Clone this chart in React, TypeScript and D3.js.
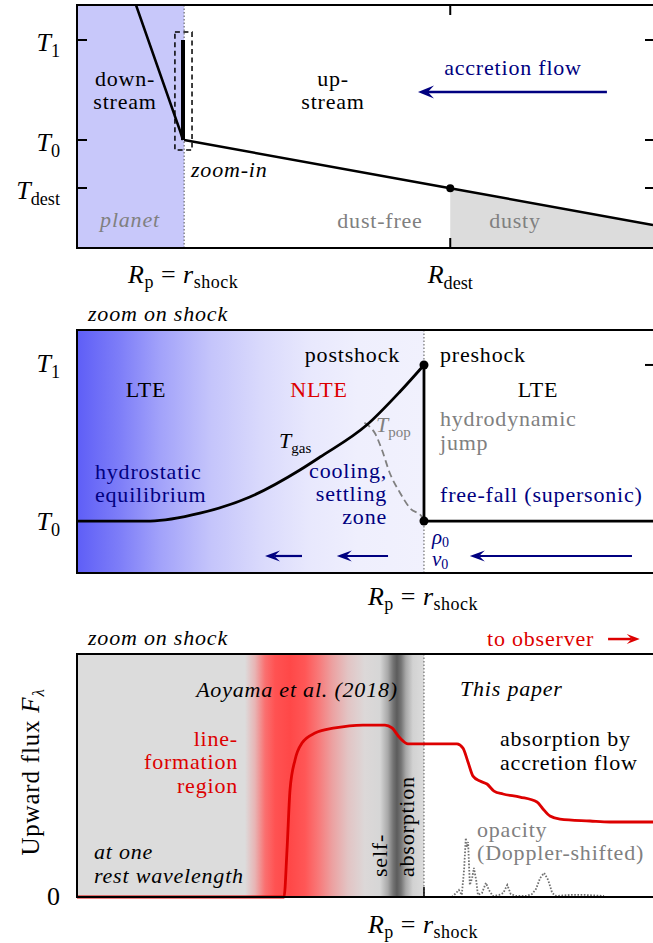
import React from 'react';
import * as d3 from 'd3';

const W = 653;
const H = 943;
const SERIF = '"Liberation Serif", "Times New Roman", Times, serif';
const NAVY = '#000080';
const RED = '#dd0000';
const GRAY = '#808080';

// ---------- radial coordinate: 0 = inner panel edge, 1 = outer panel edge ----------
const SHOCK_TOP = 0.186;
const R_DEST = 0.648;
const SHOCK_ZOOM = 0.6024;

// ---------- panel 1: global temperature profile (T0 = 0, T1 = 1) ----------
const overviewTickValues = [1, 0, -0.48];
const overviewTickSubs = ['1', '0', 'dest'];
const downstreamR = [0.1024, 0.179, 0.184];
const downstreamT = [1.35, 0.09, 0.0];
const jumpR = [0.184, 0.184];
const jumpT = [0.0, 1.0];
const upstreamR = [0.186, 0.648, 1.0];
const upstreamT = [0.0, -0.482, -0.85];
const zoomBoxR = [0.170, 0.1997];
const zoomBoxT = [-0.1, 1.08];

// ---------- panel 2: zoom on the shock ----------
const gasR = [0, 0.127, 0.2135, 0.3, 0.387, 0.422, 0.503, 0.561, 0.6024];
const gasT = [0, 0, 0.05, 0.154, 0.327, 0.41, 0.615, 0.83, 1.0];
const popR = [0.499, 0.508, 0.517, 0.5295, 0.543, 0.561, 0.578, 0.599, 0.6024];
const popT = [0.63, 0.605, 0.564, 0.455, 0.308, 0.18, 0.083, 0.026, 0];
const preshockR = [0.6024, 1.0];
const preshockT = [0, 0];
const flowArrowsFrom = [0.3906, 0.540, 0.9635];
const flowArrowsTo = [0.3264, 0.451, 0.682];

// ---------- panel 3: upward flux at one rest wavelength ----------
const fluxR = [0, 0.3594, 0.3646, 0.3698, 0.3785, 0.3906, 0.4132, 0.4479, 0.4965, 0.5347, 0.5469,
  0.5608, 0.5747, 0.6597, 0.6701, 0.6788, 0.6875, 0.6997, 0.7118, 0.724, 0.7396, 0.7691, 0.7986,
  0.809, 0.8212, 0.8385, 0.8906, 0.9253, 1.0];
const fluxF = [0, 0, 0.273, 0.622, 0.797, 0.895, 0.953, 0.983, 1.0, 1.0, 0.983,
  0.924, 0.89, 0.89, 0.866, 0.785, 0.703, 0.674, 0.657, 0.616, 0.599, 0.581, 0.552,
  0.512, 0.471, 0.453, 0.442, 0.436, 0.436];
const opacityR = [0.651, 0.658, 0.663, 0.668, 0.672, 0.675, 0.677, 0.679, 0.682, 0.686, 0.689, 0.693, 0.696,
  0.703, 0.71, 0.715, 0.722, 0.733, 0.74, 0.747, 0.753, 0.762, 0.78, 0.79, 0.797, 0.804, 0.811,
  0.818, 0.825, 0.832, 0.856, 0.882, 0.915];
const opacityK = [0, 0.023, 0.041, 0.012, 0.157, 0.343, 0.29, 0.32, 0.07, 0.11, 0.169, 0.099, 0.012,
  0.023, 0.082, 0.041, 0.006, 0.012, 0.023, 0.07, 0.017, 0.006, 0.006, 0.017, 0.047, 0.11, 0.14,
  0.099, 0.023, 0.006, 0.012, 0.012, 0.006];

const xR = d3.scaleLinear().domain([0, 1]).range([77, 653]);
const y1 = d3.scaleLinear().domain([-1.08, 1.35]).range([248, 5]);
const y2 = d3.scaleLinear().domain([-0.333, 1.224]).range([573, 330]);
const y3 = d3.scaleLinear().domain([0, 1.413]).range([897, 654]);

const zip = (a: number[], b: number[]) => a.map((v, i) => [v, b[i]] as [number, number]);

function lineOf(ys: d3.ScaleLinear<number, number>, curve: d3.CurveFactory = d3.curveLinear) {
  return d3.line<[number, number]>().x(d => xR(d[0])).y(d => ys(d[1])).curve(curve);
}

function Arrow({ x1, x2, y, color, len, half, sw }: { x1: number; x2: number; y: number; color: string; len: number; half: number; sw: number }) {
  const dir = Math.sign(x2 - x1);
  const back = x2 - dir * len;
  const notch = x2 - dir * len * 0.62;
  return (
    <g>
      <line x1={x1} y1={y} x2={notch} y2={y} stroke={color} strokeWidth={sw} />
      <path d={`M${x2},${y} L${back},${y - half} L${notch},${y} L${back},${y + half} Z`} fill={color} />
    </g>
  );
}

const fontStyleOf = (size: number) => ({ fontFamily: SERIF, fontSize: size });

function Sub({ x, y, base, sub, anchor = 'end', size = 26, color = '#000' }: any) {
  return (
    <text x={x} y={y} textAnchor={anchor} fill={color} style={fontStyleOf(size)}>
      <tspan fontStyle="italic">{base}</tspan>
      <tspan style={{ fontSize: size * 0.7 }} dy={size * 0.22}>{sub}</tspan>
    </text>
  );
}

function ShockLabel({ x, y }: { x: number; y: number }) {
  return (
    <text x={x} y={y} textAnchor="middle" style={{ ...fontStyleOf(26), whiteSpace: 'pre', letterSpacing: '0.5px' }}>
      <tspan fontStyle="italic">R</tspan>
      <tspan style={{ fontSize: 18 }} dy={5}>p</tspan>
      <tspan dy={-5}>{' = '}</tspan>
      <tspan fontStyle="italic">r</tspan>
      <tspan style={{ fontSize: 18 }} dy={5}>shock</tspan>
    </text>
  );
}

function Label({ children, size = 22, ...p }: any) {
  return (
    <text style={{ ...fontStyleOf(size), letterSpacing: '0.8px' }} {...p}>{children}</text>
  );
}

export default function App() {
  const l1 = lineOf(y1);
  const l2 = lineOf(y2, d3.curveMonotoneX);
  const l2lin = lineOf(y2);
  const l3 = lineOf(y3, d3.curveMonotoneX);
  const l3lin = lineOf(y3);

  const dustyPoly = [
    [xR(R_DEST), y1(-0.482)], [xR(1), y1(-0.85)], [xR(1), y1(-1.08)], [xR(R_DEST), y1(-1.08)],
  ];
  // frames run past the right edge of the canvas, so their right side is cut off
  const frameW = xR(1) - xR(0) + 4;

  return (
    <svg width={W} height={H} style={{ position: 'absolute', left: 0, top: 0, background: '#fff', fontFamily: SERIF }}>
      <defs>
        <linearGradient id="postshockGrad" gradientUnits="userSpaceOnUse" x1={77} x2={xR(SHOCK_ZOOM)} y1={0} y2={0}>
          <stop offset="0" stopColor="#5e5ef7" />
          <stop offset="0.124" stopColor="#7e7ef8" />
          <stop offset="0.24" stopColor="#a2a2fa" />
          <stop offset="0.383" stopColor="#c4c4fb" />
          <stop offset="0.527" stopColor="#d9d9fc" />
          <stop offset="0.67" stopColor="#e8e8fd" />
          <stop offset="0.81" stopColor="#efeffd" />
          <stop offset="1" stopColor="#f1f1fd" />
        </linearGradient>
        <linearGradient id="lineGrad" gradientUnits="userSpaceOnUse" x1={77} x2={xR(SHOCK_ZOOM)} y1={0} y2={0}>
          <stop offset="0" stopColor="#dcdcdc" />
          <stop offset="0.484" stopColor="#dcdcdc" />
          <stop offset="0.513" stopColor="#e8b4b4" />
          <stop offset="0.542" stopColor="#fa7070" />
          <stop offset="0.571" stopColor="#ff5252" />
          <stop offset="0.614" stopColor="#ff4848" />
          <stop offset="0.657" stopColor="#ff5656" />
          <stop offset="0.695" stopColor="#f87878" />
          <stop offset="0.735" stopColor="#eca0a0" />
          <stop offset="0.781" stopColor="#e2c4c4" />
          <stop offset="0.83" stopColor="#dcd8d8" />
          <stop offset="0.873" stopColor="#d6d6d6" />
          <stop offset="0.896" stopColor="#a8a8a8" />
          <stop offset="0.911" stopColor="#747474" />
          <stop offset="0.922" stopColor="#5c5c5c" />
          <stop offset="0.934" stopColor="#747474" />
          <stop offset="0.948" stopColor="#a8a8a8" />
          <stop offset="0.968" stopColor="#d2d2d2" />
          <stop offset="1" stopColor="#dcdcdc" />
        </linearGradient>
      </defs>

      {/* ================= panel 1 ================= */}
      <rect x={xR(0)} y={y1(1.35)} width={xR(SHOCK_TOP) - xR(0)} height={y1(-1.08) - y1(1.35)} fill="#c8c8fa" />
      <polygon points={dustyPoly.map(p => p.join(',')).join(' ')} fill="#dcdcdc" />
      <line x1={xR(SHOCK_TOP)} x2={xR(SHOCK_TOP)} y1={y1(1.35)} y2={y1(-1.08)} stroke="#555" strokeWidth={1} strokeDasharray="1.5,2" />
      <rect x={xR(zoomBoxR[0])} y={y1(zoomBoxT[1])} width={xR(zoomBoxR[1]) - xR(zoomBoxR[0])} height={y1(zoomBoxT[0]) - y1(zoomBoxT[1])}
        fill="none" stroke="#000" strokeWidth={1.5} strokeDasharray="5,3.5" />
      <path d={l1(zip(downstreamR, downstreamT)) || ''} fill="none" stroke="#000" strokeWidth={2.5} />
      <path d={l1(zip(jumpR, jumpT)) || ''} fill="none" stroke="#000" strokeWidth={4} />
      <path d={l1(zip(upstreamR, upstreamT)) || ''} fill="none" stroke="#000" strokeWidth={2.5} />
      <circle cx={xR(R_DEST)} cy={y1(-0.482)} r={4} fill="#000" />
      {overviewTickValues.map((v, i) => (
        <g key={i}>
          <line x1={xR(0)} x2={xR(0) + 10} y1={y1(v)} y2={y1(v)} stroke="#000" strokeWidth={2} />
          <line x1={xR(1) - 8} x2={xR(1)} y1={y1(v)} y2={y1(v)} stroke="#000" strokeWidth={2} />
          <Sub x={60} y={y1(v) + 11} base="T" sub={overviewTickSubs[i]} />
        </g>
      ))}
      <line x1={xR(R_DEST)} x2={xR(R_DEST)} y1={y1(1.35)} y2={y1(1.35) + 10} stroke="#000" strokeWidth={2} />
      <line x1={xR(R_DEST)} x2={xR(R_DEST)} y1={y1(-1.08)} y2={y1(-1.08) - 10} stroke="#000" strokeWidth={2} />
      <rect x={xR(0)} y={y1(1.35)} width={frameW} height={y1(-1.08) - y1(1.35)} fill="none" stroke="#000" strokeWidth={2} />

      <Label x={125} y={86} textAnchor="middle">down-</Label>
      <Label x={125} y={109} textAnchor="middle">stream</Label>
      <Label x={333} y={86} textAnchor="middle">up-</Label>
      <Label x={333} y={109} textAnchor="middle">stream</Label>
      <Label x={513} y={75} textAnchor="middle" fill={NAVY}>accretion flow</Label>
      <Arrow x1={xR(0.92)} x2={xR(0.592)} y={y1(0.48)} color={NAVY} len={16} half={6.5} sw={2.5} />
      <Label x={191} y={177} fontStyle="italic">zoom-in</Label>
      <Label x={130} y={227} textAnchor="middle" fontStyle="italic" fill={GRAY}>planet</Label>
      <Label x={380} y={228} textAnchor="middle" fill={GRAY}>dust-free</Label>
      <Label x={515} y={228} textAnchor="middle" fill={GRAY}>dusty</Label>
      <ShockLabel x={xR(SHOCK_TOP) - 1} y={283} />
      <Sub x={xR(R_DEST)} y={283} base="R" sub="dest" anchor="middle" />

      {/* ================= panel 2 ================= */}
      <Label x={88} y={321} fontStyle="italic">zoom on shock</Label>
      <rect x={xR(0)} y={y2(1.224)} width={xR(SHOCK_ZOOM) - xR(0)} height={y2(-0.333) - y2(1.224)} fill="url(#postshockGrad)" />
      <line x1={xR(SHOCK_ZOOM)} x2={xR(SHOCK_ZOOM)} y1={y2(1.224)} y2={y2(-0.333)} stroke="#555" strokeWidth={1} strokeDasharray="1.5,2" />
      <path d={l2(zip(popR, popT)) || ''} fill="none" stroke="#808080" strokeWidth={1.8} strokeDasharray="7,4" />
      <path d={l2(zip(gasR, gasT)) || ''} fill="none" stroke="#000" strokeWidth={2.8} />
      <path d={l2lin(zip([SHOCK_ZOOM, SHOCK_ZOOM], [0, 1])) || ''} fill="none" stroke="#000" strokeWidth={2.8} />
      <path d={l2lin(zip(preshockR, preshockT)) || ''} fill="none" stroke="#000" strokeWidth={2.8} />
      <circle cx={xR(SHOCK_ZOOM)} cy={y2(1)} r={4.5} fill="#000" />
      <circle cx={xR(SHOCK_ZOOM)} cy={y2(0)} r={4.5} fill="#000" />
      <line x1={xR(1) - 8} x2={xR(1)} y1={y2(1)} y2={y2(1)} stroke="#000" strokeWidth={2} />
      <rect x={xR(0)} y={y2(1.224)} width={frameW} height={y2(-0.333) - y2(1.224)} fill="none" stroke="#000" strokeWidth={2} />
      <Sub x={60} y={y2(1) + 7} base="T" sub="1" />
      <Sub x={60} y={y2(0) + 9} base="T" sub="0" />

      <Label x={400} y={362} textAnchor="end">postshock</Label>
      <Label x={440} y={362}>preshock</Label>
      <Label x={146} y={397} textAnchor="middle">LTE</Label>
      <Label x={319} y={397} textAnchor="middle" fill={RED}>NLTE</Label>
      <Label x={538} y={397} textAnchor="middle">LTE</Label>
      <text x={279} y={448} style={fontStyleOf(22)}>
        <tspan fontStyle="italic">T</tspan><tspan style={{ fontSize: 15 }} dy={5}>gas</tspan>
      </text>
      <text x={376} y={432} fill={GRAY} style={fontStyleOf(22)}>
        <tspan fontStyle="italic">T</tspan><tspan style={{ fontSize: 15 }} dy={5}>pop</tspan>
      </text>
      <Label x={440} y={426} fill={GRAY}>hydrodynamic</Label>
      <Label x={440} y={450} fill={GRAY}>jump</Label>
      <Label x={95} y={479} fill={NAVY}>hydrostatic</Label>
      <Label x={95} y={502} fill={NAVY}>equilibrium</Label>
      <Label x={387} y={478} textAnchor="end" fill={NAVY}>cooling,</Label>
      <Label x={387} y={501} textAnchor="end" fill={NAVY}>settling</Label>
      <Label x={387} y={524} textAnchor="end" fill={NAVY}>zone</Label>
      <Label x={440} y={502} fill={NAVY}>free-fall (supersonic)</Label>
      <text x={432} y={544} fill={NAVY} style={fontStyleOf(21)}>
        <tspan fontStyle="italic">ρ</tspan><tspan style={{ fontSize: 14 }} dy={3}>0</tspan>
      </text>
      <text x={432} y={566} fill={NAVY} style={fontStyleOf(21)}>
        <tspan fontStyle="italic">v</tspan><tspan style={{ fontSize: 14 }} dy={3}>0</tspan>
      </text>
      {flowArrowsFrom.map((r, i) => (
        <Arrow key={i} x1={xR(r)} x2={xR(flowArrowsTo[i])} y={y2(-0.224)} color={NAVY} len={15} half={5.5} sw={2.2} />
      ))}
      <ShockLabel x={xR(SHOCK_ZOOM) - 1} y={605} />

      {/* ================= panel 3 ================= */}
      <Label x={88} y={645} fontStyle="italic">zoom on shock</Label>
      <Label x={487} y={646} fill={RED}>to observer</Label>
      <Arrow x1={xR(0.922)} x2={xR(0.977)} y={y3(1.5)} color={RED} len={13} half={5} sw={2.5} />
      <rect x={xR(0)} y={y3(1.413)} width={xR(SHOCK_ZOOM) - xR(0)} height={y3(0) - y3(1.413)} fill="url(#lineGrad)" />
      <line x1={xR(SHOCK_ZOOM)} x2={xR(SHOCK_ZOOM)} y1={y3(1.413)} y2={y3(0)} stroke="#555" strokeWidth={1} strokeDasharray="1.5,2" />
      <path d={l3lin(zip(opacityR, opacityK)) || ''} fill="none" stroke="#707070" strokeWidth={1.8} strokeDasharray="1.6,1.6" />
      <path d={l3(zip(fluxR, fluxF)) || ''} fill="none" stroke={RED} strokeWidth={2.8} />
      <line x1={xR(SHOCK_ZOOM)} x2={xR(SHOCK_ZOOM)} y1={y3(0)} y2={y3(0) - 10} stroke="#000" strokeWidth={1.5} />
      <rect x={xR(0)} y={y3(1.413)} width={frameW} height={y3(0) - y3(1.413)} fill="none" stroke="#000" strokeWidth={2} />
      <text x={60} y={905} textAnchor="end" style={fontStyleOf(26)}>0</text>
      <text transform="translate(39,772) rotate(-90)" textAnchor="middle" style={{ ...fontStyleOf(25), letterSpacing: '0.8px' }}>
        Upward flux <tspan fontStyle="italic">F</tspan><tspan fontStyle="italic" style={{ fontSize: 17 }} dy={5}>λ</tspan>
      </text>

      <Label x={297} y={697} textAnchor="middle" fontStyle="italic">Aoyama et al. (2018)</Label>
      <Label x={460} y={696} fontStyle="italic">This paper</Label>
      <Label x={238} y={746} textAnchor="end" fill={RED}>line-</Label>
      <Label x={238} y={769} textAnchor="end" fill={RED}>formation</Label>
      <Label x={238} y={793} textAnchor="end" fill={RED}>region</Label>
      <Label x={500} y={746}>absorption by</Label>
      <Label x={500} y={770}>accretion flow</Label>
      <Label transform="translate(387,877) rotate(-90)">self-</Label>
      <Label transform="translate(414,877) rotate(-90)">absorption</Label>
      <Label x={477} y={837} fill={GRAY}>opacity</Label>
      <Label x={477} y={860} fill={GRAY}>(Doppler-shifted)</Label>
      <Label x={94} y={859} fontStyle="italic">at one</Label>
      <Label x={94} y={883} fontStyle="italic">rest wavelength</Label>
      <ShockLabel x={xR(SHOCK_ZOOM) - 1} y={933} />
    </svg>
  );
}
